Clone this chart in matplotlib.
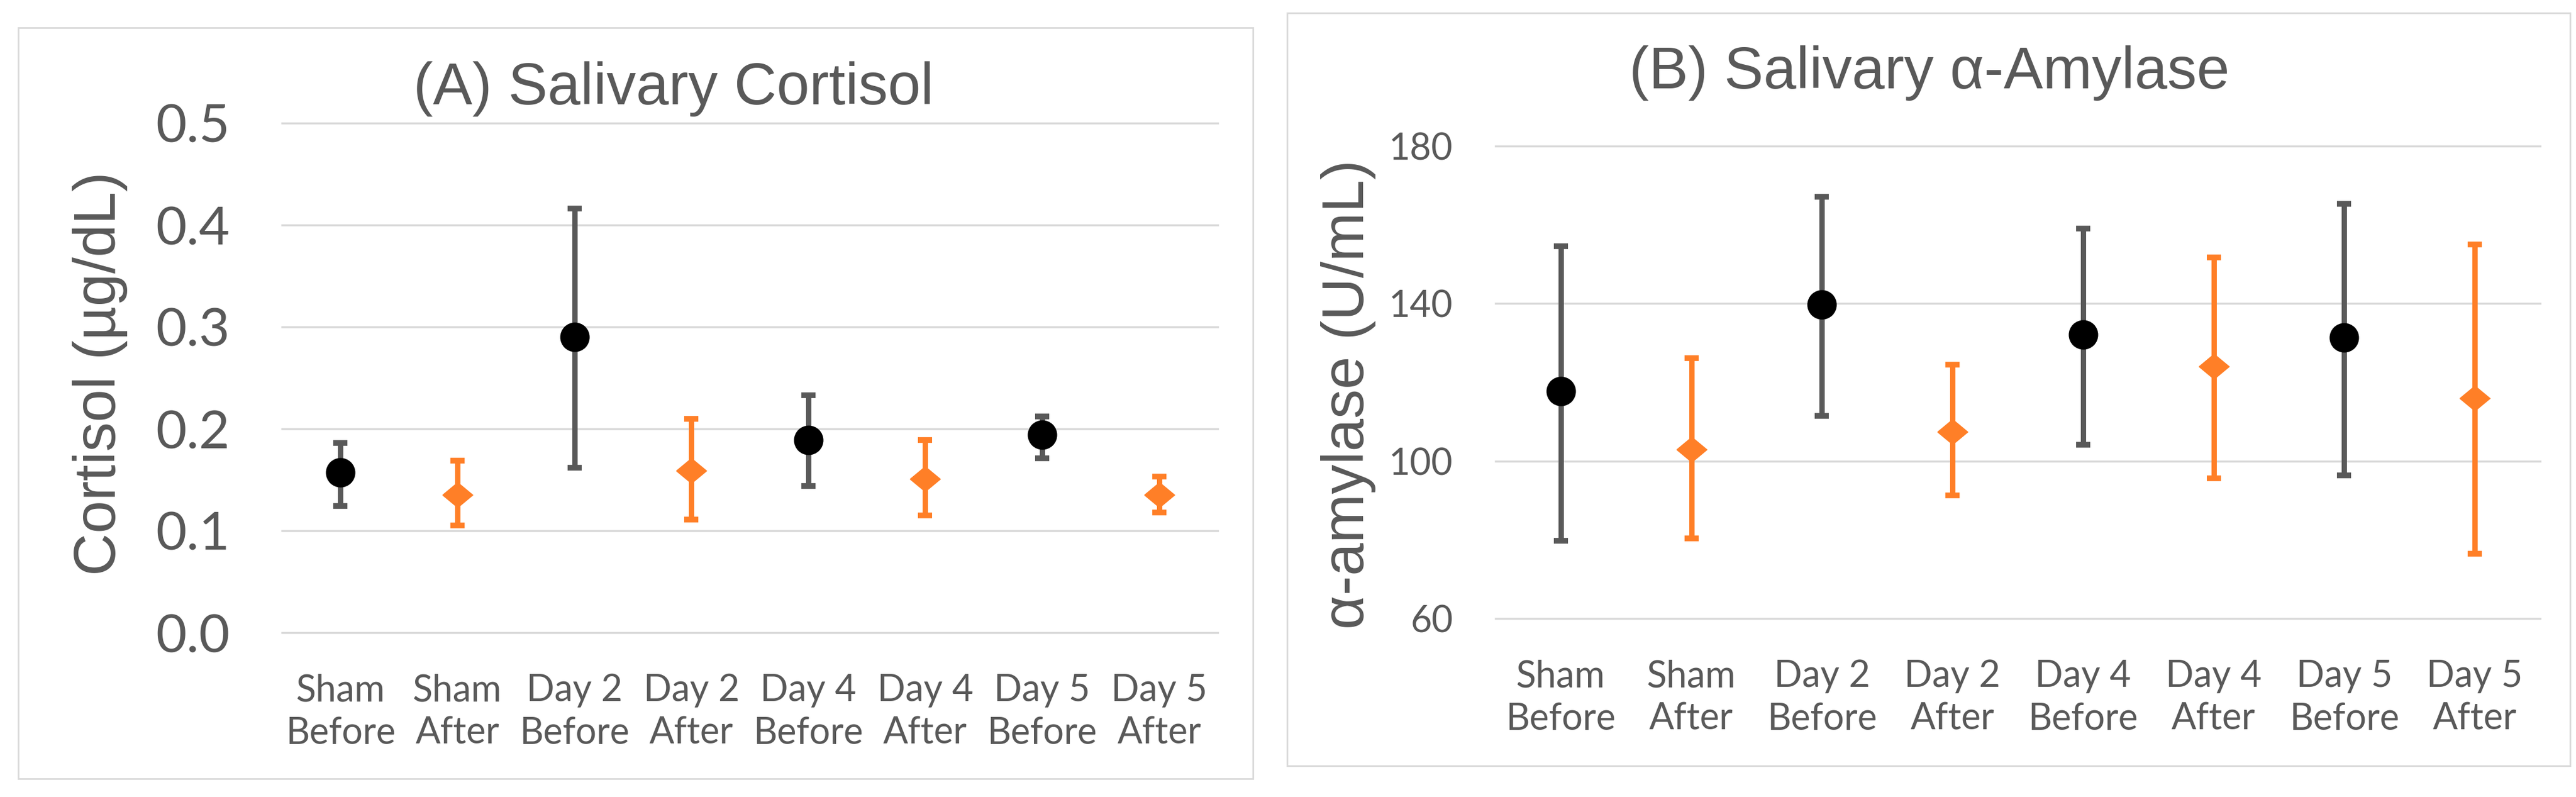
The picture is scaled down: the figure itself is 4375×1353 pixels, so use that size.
import matplotlib
matplotlib.use("Agg")
import matplotlib.pyplot as plt
from matplotlib.patches import Rectangle
import numpy as np

W, H = 4375, 1353

groups = ["Sham\nBefore", "Sham\nAfter", "Day 2\nBefore", "Day 2\nAfter",
          "Day 4\nBefore", "Day 4\nAfter", "Day 5\nBefore", "Day 5\nAfter"]

# (A) salivary cortisol, ug/dL  -- mean, top and bottom of the error bar
cort_mean = [0.157, 0.135, 0.290, 0.159, 0.189, 0.151, 0.194, 0.135]
cort_top = [0.186, 0.169, 0.416, 0.210, 0.233, 0.189, 0.212, 0.153]
cort_bot = [0.124, 0.105, 0.162, 0.111, 0.144, 0.115, 0.171, 0.118]
cort_ticks = [0.0, 0.1, 0.2, 0.3, 0.4, 0.5]

# (B) salivary alpha-amylase, U/mL
amy_mean = [117.7, 103.0, 139.8, 107.4, 132.1, 124.0, 131.4, 116.0]
amy_top = [154.5, 126.2, 167.2, 124.5, 159.0, 151.7, 165.4, 155.0]
amy_bot = [79.8, 80.4, 111.5, 91.2, 104.2, 95.6, 96.3, 76.4]
amy_ticks = [60, 100, 140, 180]

TXT = "#595959"
GRID = "#d9d9d9"
ORANGE = "#ff7f27"
DARK = "#595959"

# wide diamond marker
diamond = [(-1, 0), (0, 0.83), (1, 0), (0, -0.83), (-1, 0)]


def px_box(x0, y0, x1, y1):
    # pixel box (top-left origin) -> figure fraction rect
    return [x0 / W, 1 - y1 / H, (x1 - x0) / W, (y1 - y0) / H]


def draw_panel(ax, mean, top, bot, ticks, tick_size, tick_pad, fmt):
    x = np.arange(len(mean))
    mean = np.array(mean)
    lo = mean - np.array(bot)
    hi = np.array(top) - mean
    before = x % 2 == 0
    after = ~before
    ax.errorbar(x[before], mean[before], yerr=[lo[before], hi[before]], fmt="none",
                ecolor=DARK, elinewidth=6.5, capsize=8.5, capthick=7, zorder=3)
    ax.errorbar(x[after], mean[after], yerr=[lo[after], hi[after]], fmt="none",
                ecolor=ORANGE, elinewidth=6.5, capsize=8.5, capthick=7, zorder=3)
    ax.plot(x[before], mean[before], "o", color="black", markersize=35, zorder=4)
    ax.plot(x[after], mean[after], marker=diamond, ls="none", color=ORANGE,
            markersize=37, zorder=4)

    ax.set_xlim(-0.5, len(mean) - 0.5)
    ax.set_ylim(ticks[0], ticks[-1])
    ax.set_yticks(ticks)
    ax.set_yticklabels([fmt.format(t) for t in ticks])
    ax.set_xticks(x)
    ax.set_xticklabels(groups, linespacing=1.3)
    for s in ax.spines.values():
        s.set_visible(False)
    ax.grid(axis="y", color=GRID, lw=2.5)
    for gl in ax.get_ygridlines():
        gl.set_clip_on(False)
    ax.set_axisbelow(True)
    ax.tick_params(axis="both", length=0, colors=TXT)
    ax.tick_params(axis="y", labelsize=tick_size, pad=tick_pad)
    ax.tick_params(axis="x", labelsize=45, pad=50)
    for lab in ax.get_xticklabels() + ax.get_yticklabels():
        lab.set_family("Lato")


fig = plt.figure(figsize=(W / 100, H / 100), dpi=100)

# panel frames
fig.add_artist(Rectangle((31 / W, 1 - 1322 / H), (2128 - 31) / W, (1322 - 47) / H,
                         transform=fig.transFigure, fill=False, ec=GRID, lw=2))
fig.add_artist(Rectangle((2186 / W, 1 - 1300 / H), (4365 - 2186) / W, (1300 - 22) / H,
                         transform=fig.transFigure, fill=False, ec=GRID, lw=2))

axA = fig.add_axes(px_box(479, 209, 2068, 1074))
draw_panel(axA, cort_mean, cort_top, cort_bot, cort_ticks, 65, 64, "{:.1f}")

axB = fig.add_axes(px_box(2540, 248, 4314, 1050))
draw_panel(axB, amy_mean, amy_top, amy_bot, amy_ticks, 45, 52, "{:.0f}")

fig.text(1144 / W, 1 - 177 / H, "(A) Salivary Cortisol", ha="center", va="baseline",
         fontsize=72, color=TXT, family="Liberation Sans")
fig.text(3277 / W, 1 - 150 / H, "(B) Salivary \u03b1-Amylase", ha="center", va="baseline",
         fontsize=72, color=TXT, family="Liberation Sans")

fig.text(170 / W, 1 - 634 / H, "Cortisol (\u00b5g/dL)", rotation=90, ha="center", va="center",
         fontsize=72, color=TXT, family="Liberation Sans")
fig.text(2290 / W, 1 - 670 / H, "\u03b1-amylase (U/mL)", rotation=90, ha="center", va="center",
         fontsize=72, color=TXT, family="Liberation Sans")

fig.savefig("out.png", dpi=100, facecolor="white")
